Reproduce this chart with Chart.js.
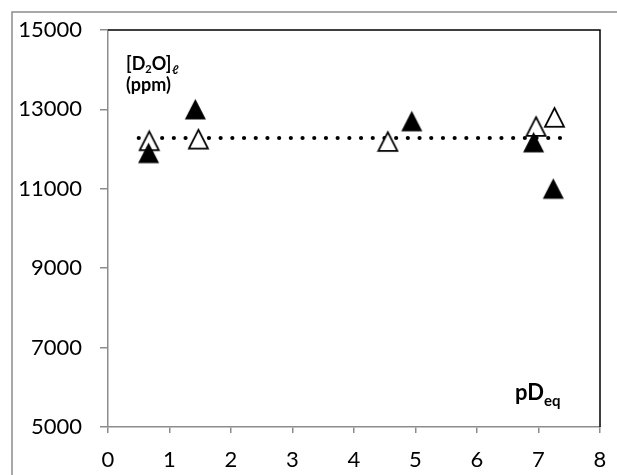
<!DOCTYPE html>
<html><head><meta charset="utf-8">
<script src="https://cdn.jsdelivr.net/npm/chart.js@4"></script>
<style>html,body{margin:0;padding:0;background:#fff}#wrap{width:617px;height:475px}</style>
</head><body><div id="wrap"><canvas id="c" width="617" height="475"></canvas></div>
<script>
// ---- data ----
const xTicks = [0, 1, 2, 3, 4, 5, 6, 7, 8];
const yTicks = [5000, 7000, 9000, 11000, 13000, 15000];
const filledPD = [0.66, 1.42, 4.94, 6.92, 7.24];
const filledD2O = [11900, 13000, 12700, 12170, 11000];
const hollowPD = [0.67, 1.47, 4.55, 6.96, 7.26];
const hollowD2O = [12210, 12250, 12190, 12570, 12800];
const meanPD = [0.5, 7.45];
const meanD2O = [12280, 12280];

const FONT = 'Lato, "Open Sans", sans-serif';

function tri(filled) {
  const c = document.createElement('canvas');
  c.width = 23; c.height = 23;
  const g = c.getContext('2d');
  g.beginPath();
  if (filled) {
    g.moveTo(11.5, 1); g.lineTo(22, 21.5); g.lineTo(1, 21.5); g.closePath();
    g.fillStyle = '#000'; g.fill();
  } else {
    g.moveTo(11.5, 2.2); g.lineTo(21, 20.8); g.lineTo(2, 20.8); g.closePath();
    g.fillStyle = '#fff'; g.fill();
    g.lineWidth = 1.8; g.strokeStyle = '#000'; g.stroke();
  }
  return c;
}
const pts = (xs, ys) => xs.map((x, i) => ({x: x, y: ys[i]}));

const framePlugin = {
  id: 'frame',
  beforeDraw(chart) {
    const ctx = chart.ctx;
    ctx.save();
    ctx.fillStyle = '#fff';
    ctx.fillRect(0, 0, chart.width, chart.height);
    ctx.restore();
  },
  afterDraw(chart) {
    const ctx = chart.ctx, a = chart.chartArea;
    ctx.save();
    ctx.strokeStyle = '#8c8c8c'; ctx.lineWidth = 1.5;
    ctx.beginPath();
    ctx.moveTo(12, 476); ctx.lineTo(12, 12); ctx.lineTo(620, 12);
    ctx.stroke();
    ctx.strokeStyle = '#000'; ctx.lineWidth = 1.5;
    ctx.beginPath();
    ctx.moveTo(a.left, a.top); ctx.lineTo(a.right, a.top); ctx.lineTo(a.right, a.bottom);
    ctx.stroke();
    ctx.fillStyle = '#000';
    ctx.textBaseline = 'alphabetic';
    ctx.textAlign = 'left';
    let x = 126;
    ctx.font = 'bold 18px ' + FONT;
    ctx.fillText('[D', x, 70); x += ctx.measureText('[D').width;
    ctx.font = 'bold 11px ' + FONT;
    ctx.fillText('2', x, 73); x += ctx.measureText('2').width;
    ctx.font = 'bold 18px ' + FONT;
    ctx.fillText('O]', x, 70); x += ctx.measureText('O]').width;
    ctx.font = 'italic bold 12px ' + FONT;
    ctx.fillText('\u2113', x + 0.5, 74);
    ctx.font = 'bold 18px ' + FONT;
    ctx.fillText('(ppm)', 126, 91);
    x = 515;
    ctx.font = 'bold 22px ' + FONT;
    ctx.fillText('pD', x, 400); x += ctx.measureText('pD').width;
    ctx.font = 'bold 15px ' + FONT;
    ctx.fillText('eq', x, 406);
    ctx.restore();
  }
};

new Chart(document.getElementById('c'), {
  type: 'scatter',
  data: {
    datasets: [
      {label: 'filled', data: pts(filledPD, filledD2O), pointStyle: tri(true), order: 0},
      {label: 'hollow', data: pts(hollowPD, hollowD2O), pointStyle: tri(false), order: 1},
      {label: 'mean', type: 'line', data: pts(meanPD, meanD2O), order: 2,
       borderColor: '#000', borderWidth: 4.2, borderDash: [0, 11.7], borderCapStyle: 'round',
       pointRadius: 0, fill: false}
    ]
  },
  options: {
    responsive: false,
    animation: false,
    layout: {padding: {left: 0, top: 30, right: 17, bottom: 0}},
    plugins: {legend: {display: false}, tooltip: {enabled: false}},
    scales: {
      x: {
        type: 'linear', min: 0, max: 8,
        afterBuildTicks: s => { s.ticks = xTicks.map(v => ({value: v})); },
        afterFit: s => { s.height = 48; s.paddingRight = 0; s.paddingLeft = 0; },
        ticks: {color: '#000', font: {family: FONT, size: 22}, padding: 14, maxRotation: 0},
        grid: {drawOnChartArea: false, drawTicks: true, tickLength: 6, color: '#8c8c8c', lineWidth: 1.5},
        border: {color: '#8c8c8c', width: 1.5}
      },
      y: {
        type: 'linear', min: 5000, max: 15000,
        afterBuildTicks: s => { s.ticks = yTicks.map(v => ({value: v})); },
        afterFit: s => { s.width = 108; s.paddingTop = 0; s.paddingBottom = 0; },
        ticks: {color: '#000', font: {family: FONT, size: 22}, padding: 18, callback: v => String(v)},
        grid: {drawOnChartArea: false, drawTicks: true, tickLength: 8, color: '#8c8c8c', lineWidth: 1.5},
        border: {color: '#8c8c8c', width: 1.5}
      }
    }
  },
  plugins: [framePlugin]
});
</script>
</body></html>
